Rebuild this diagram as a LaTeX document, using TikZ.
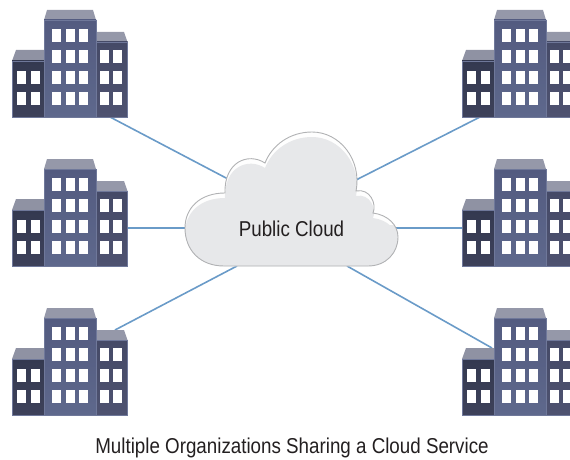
\documentclass[tikz,border=0pt]{standalone}
\usepackage{fontspec}
\setmainfont{Liberation Sans}
\definecolor{edgeb}{HTML}{6F789A}
\definecolor{linkb}{HTML}{6A9BC8}
\definecolor{cloudg}{HTML}{E7E8EA}
\definecolor{cloude}{HTML}{B1B2B4}
\definecolor{inkc}{HTML}{231F20}
\newcommand{\cloudpath}{(225,193) .. controls (200,193) and (185,208) .. (185,228)
  .. controls (185,250) and (200,266) .. (224,266) -- (368,266)
  .. controls (386,266) and (398,253) .. (398,237)
  .. controls (398,225) and (388,215) .. (373,213)
  .. controls (377,204) and (370,188) .. (356,191)
  .. controls (362,160) and (340,132) .. (312,132)
  .. controls (290,132) and (272,145) .. (265,163)
  .. controls (248,152) and (224,162) .. (225,193) -- cycle}
\newcommand{\winrow}[2]{% y, list of x
  \foreach \wx in {#2} \fill[white] (\wx,#1) rectangle ++(9,13);}
\tikzset{
  x=1pt,y=-1pt,
  wall/.style={draw=edgeb,line width=0.6pt},
  roofc/.style={fill=#1,draw=none},
  linkline/.style={draw=linkb,line width=1.6pt},
  cap text/.style={text=inkc,inner sep=0pt,font=\fontsize{21.5}{25}\selectfont},
  building/.pic={
    \fill[roofc=roofa] (12,61) -- (16,50) -- (44,50) -- (44,61) -- cycle;
    \fill[roofc=roofb] (96,42) -- (96,32) -- (124,32) -- (127.5,42) -- cycle;
    \fill[roofc=roofb] (44,20) -- (47,10) -- (93,10) -- (96,20) -- cycle;
    \path[wall,top color=wingl,bottom color=winglb] (12,61) rectangle (44,117);
    \path[wall,top color=wingr,bottom color=wingrb] (96,42) rectangle (127.5,117);
    \path[wall,top color=mida,bottom color=midb] (44,20) rectangle (96,117);
    \winrow{29}{52,66,79}\winrow{50}{52,66,79}\winrow{71}{52,66,79}\winrow{92}{52,66,79}
    \winrow{71}{17,31}\winrow{92}{17,31}
    \winrow{50}{100,113}\winrow{71}{100,113}\winrow{92}{100,113}
  }
}
\definecolor{roofa}{HTML}{8F92A3}
\definecolor{roofb}{HTML}{9598A9}
\definecolor{wingl}{HTML}{343950}
\definecolor{winglb}{HTML}{3D415A}
\definecolor{wingr}{HTML}{454A67}
\definecolor{wingrb}{HTML}{4E5270}
\definecolor{mida}{HTML}{535B80}
\definecolor{midb}{HTML}{5E688C}
\begin{document}
\begin{tikzpicture}
\useasboundingbox (0,0) rectangle (570,460);
\clip (0,0) rectangle (570,460);
% connector ends
\coordinate (bl1) at (110,117);
\coordinate (bl2) at (127,228);
\coordinate (bl3) at (115,330);
\coordinate (br1) at (480,117);
\coordinate (br2) at (462,228);
\coordinate (br3) at (492,348);
\coordinate (cl1) at (228,179);
\coordinate (cl2) at (187,228);
\coordinate (cl3) at (237,266);
\coordinate (cr1) at (356,180);
\coordinate (cr2) at (396,228);
\coordinate (cr3) at (347,266);
\draw[linkline] (bl1) -- (cl1);
\draw[linkline] (bl2) -- (cl2);
\draw[linkline] (bl3) -- (cl3);
\draw[linkline] (br1) -- (cr1);
\draw[linkline] (br2) -- (cr2);
\draw[linkline] (br3) -- (cr3);
% buildings
\pic at (0,0) {building};
\pic at (0,149) {building};
\pic at (0,298) {building};
\pic at (450,0) {building};
\pic at (450,149) {building};
\pic at (450,298) {building};
% cloud
\begin{scope}
  \clip \cloudpath;
  \fill[white!96!cloudg] \cloudpath;
  \begin{scope}[yshift=-5pt]
    \fill[cloudg] \cloudpath;
  \end{scope}
  \fill[cloudg] (185,225) rectangle (400,268);
\end{scope}
\draw[cloude,line width=0.9pt] \cloudpath;
\node[cap text] (cloudlabel) at (291.5,228.5) {\scalebox{0.873}[1]{Public Cloud}};
\node[cap text] (caption) at (292,447.5) {\scalebox{0.873}[1]{Multiple Organizations Sharing a Cloud Service}};
\end{tikzpicture}
\end{document}
